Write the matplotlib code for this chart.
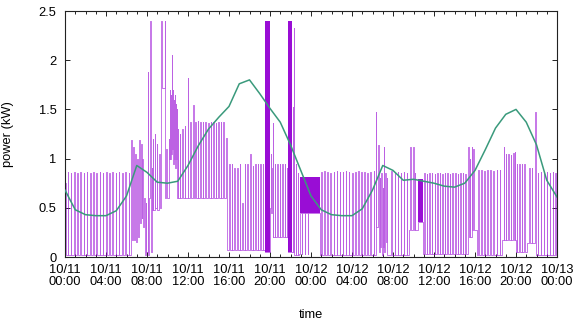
import matplotlib
matplotlib.use("Agg")
import matplotlib.pyplot as plt

plt.rcParams['font.family'] = ['Liberation Sans', 'DejaVu Sans']

# ---- power (kW); time in hours since 10/11 00:00 ----
# regular switching periods: pulse start times, pulse heights, baseline level
night1_on = [0.0, 0.27, 0.58, 0.88, 1.2, 1.5, 1.82, 2.12, 2.45, 2.75, 3.07, 3.38, 3.7,
             4.0, 4.32, 4.63, 4.95, 5.26, 5.58, 5.88, 6.2]
night1_h = [0.75, 0.86, 0.85, 0.86, 0.85, 0.86, 0.85, 0.86, 0.85, 0.86, 0.85, 0.86, 0.85,
            0.86, 0.85, 0.86, 0.85, 0.86, 0.85, 0.86, 0.85]
night1_base = 0.02

# irregular morning activity (step samples)
morning1_t = [6.45, 6.52, 6.65, 6.72, 6.85, 6.92, 7.05, 7.12, 7.25, 7.32, 7.42, 7.5, 7.56,
              7.65, 7.72, 7.8, 7.86, 7.95, 8.05, 8.1, 8.2, 8.3, 8.38, 8.45, 8.5, 8.55,
              8.62, 8.75, 8.82, 8.95, 9.02, 9.15, 9.22, 9.4, 9.45, 9.75, 9.8, 9.9, 9.95,
              10.1, 10.15, 10.2, 10.25, 10.3, 10.35, 10.4, 10.45, 10.5, 10.55, 10.6,
              10.65, 10.7, 10.75, 10.8, 10.85, 10.9, 10.95, 11.0, 11.05]
morning1_p = [1.19, 0.17, 1.12, 0.17, 1.05, 0.15, 1.0, 0.2, 1.19, 0.35, 1.15, 0.4, 1.0,
              0.3, 0.6, 0.02, 0.55, 0.05, 1.88, 0.02, 0.6, 2.4, 0.05, 0.9, 0.48, 1.2,
              0.48, 1.25, 0.5, 1.15, 0.48, 1.05, 0.5, 2.4, 1.72, 2.4, 0.6, 1.1, 0.6,
              1.2, 1.0, 1.7, 1.0, 1.65, 1.05, 2.05, 1.1, 1.7, 0.95, 1.6,
              1.0, 1.65, 0.9, 1.55, 1.0, 1.5, 0.6, 1.3, 0.6]

day1_on = [11.2, 11.45, 11.7, 11.98, 12.2, 12.5, 12.7, 12.95, 13.2, 13.45, 13.7, 13.95,
           14.2, 14.45, 14.7, 14.95, 15.2, 15.45]
day1_h = [1.25, 1.3, 1.33, 1.82, 1.37, 1.54, 1.37, 1.38, 1.37, 1.37, 1.37, 1.36,
          1.37, 1.37, 1.36, 1.37, 1.37, 1.37]
day1_base = 0.6

evening1_on = [15.75, 16.0, 16.27, 16.53, 16.8, 17.05, 17.3, 17.55, 17.8, 18.05, 18.3,
               18.55, 18.8, 19.05, 19.3]
evening1_h = [1.21, 0.95, 0.95, 0.9, 0.9, 0.95, 0.55, 0.95, 0.95, 1.05, 0.92,
              0.95, 0.95, 0.95, 0.95]
evening1_base = 0.07

late1_t = [19.5, 20.02, 20.08, 20.13, 20.2, 20.25, 20.3, 20.34]
late1_p = [0.05, 0.5, 1.05, 0.45, 0.9, 0.2, 1.36, 0.2]

late2_on = [20.45, 20.7, 20.95, 21.2, 21.45, 21.62]
late2_h = [0.95, 0.95, 0.95, 0.95, 0.95, 0.9]
late2_base = 0.2

late3_t = [21.75, 22.1, 22.2, 22.24, 22.35, 22.38, 22.5, 22.54, 22.72, 22.76, 22.85]
late3_p = [0.05, 0.05, 1.52, 0.05, 2.33, 0.02, 0.95, 0.02, 0.85, 0.02, 0.03]

midnight_t = [22.95, 23.1, 23.14, 23.4, 23.44, 23.7, 23.74, 24.85]
midnight_p = [0.45, 0.03, 0.45, 0.03, 0.45, 0.03, 0.45, 0.02]

night2_on = [25.0, 25.3, 25.6, 25.9, 26.2, 26.5, 26.8, 27.1, 27.4, 27.7, 28.0, 28.3,
             28.6, 28.9, 29.2, 29.5, 29.8, 30.1]
night2_h = [0.86, 0.87, 0.86, 0.85, 0.86, 0.87, 0.86, 0.86, 0.87, 0.86, 0.85, 0.86,
            0.87, 0.86, 0.86, 0.85, 0.86, 0.87]
night2_base = 0.02

morning2_t = [30.33, 30.38, 30.55, 30.6, 30.7, 30.75, 30.85, 30.9, 31.0, 31.05, 31.1,
              31.15, 31.25, 31.3, 31.4, 31.45]
morning2_p = [1.47, 0.3, 1.14, 0.05, 0.8, 0.1, 0.85, 0.02, 0.7, 0.1, 1.12,
              0.05, 0.85, 0.15, 0.8, 0.02]

morning3_on = [31.85, 32.15, 32.45, 32.75, 33.05, 33.35]
morning3_h = [0.87, 0.85, 0.86, 0.85, 0.86, 0.85]
morning3_base = 0.02

morning4_t = [33.6, 33.7, 33.75, 33.95, 34.0, 34.1, 34.14, 34.4, 34.95]
morning4_p = [0.27, 1.12, 0.27, 1.12, 0.27, 0.85, 0.27, 0.36, 0.03]

day2_on = [35.05, 35.3, 35.55, 35.8, 36.05, 36.3, 36.55, 36.8, 37.05, 37.3, 37.55,
           37.8, 38.05, 38.3, 38.55, 38.8, 39.05]
day2_h = [0.85, 0.84, 0.85, 0.85, 0.84, 0.85, 0.85, 0.84, 0.85, 0.85, 0.84,
          0.85, 0.85, 0.84, 0.85, 0.85, 0.84]
day2_base = 0.03

late4_t = [39.3, 39.35, 39.4, 39.5, 39.55, 39.7, 39.75, 39.85, 39.9, 40.15]
late4_p = [0.15, 1.12, 0.2, 1.0, 0.2, 1.12, 0.27, 1.1, 0.27, 0.02]

evening2_on = [40.3, 40.6, 40.9, 41.2, 41.5, 41.8, 42.1, 42.4]
evening2_h = [0.88, 0.88, 0.87, 0.88, 0.88, 0.87, 0.88, 0.88]
evening2_base = 0.02

evening3_on = [42.6, 42.8, 43.0, 43.25, 43.5, 43.75, 43.9]
evening3_h = [0.17, 1.12, 1.05, 1.05, 1.04, 1.06, 1.07]
evening3_base = 0.17

evening4_on = [43.98, 44.05, 44.3, 44.55, 44.8]
evening4_h = [0.05, 0.95, 0.95, 0.95, 0.95]
evening4_base = 0.05

evening5_on = [45.1, 45.3, 45.55, 45.9]
evening5_h = [0.14, 0.9, 0.9, 1.47]
evening5_base = 0.14

night3_on = [45.95, 46.1, 46.4, 46.7, 47.0, 47.3, 47.6, 47.85]
night3_h = [0.02, 0.85, 0.86, 0.85, 0.86, 0.85, 0.86, 0.85]
night3_base = 0.02

# dense switching periods (appear as solid blocks)
blk_start = [19.55, 21.75, 22.95, 34.4]
blk_end = [20.02, 22.1, 24.85, 34.95]
blk_low = [0.05, 0.05, 0.45, 0.36]
blk_high = [2.4, 2.4, 0.81, 0.79]

# ---- second series (hourly) ----
g_hours = list(range(49))
g_vals = [0.68, 0.48, 0.43, 0.42, 0.42, 0.47, 0.62, 0.93, 0.86, 0.76, 0.75, 0.77, 0.93,
          1.13, 1.30, 1.42, 1.53, 1.76, 1.80, 1.66, 1.51, 1.37, 1.14, 0.88, 0.62,
          0.48, 0.43, 0.42, 0.42, 0.49, 0.68, 0.93, 0.88, 0.78, 0.79, 0.77, 0.75,
          0.72, 0.71, 0.75, 0.88, 1.09, 1.31, 1.45, 1.50, 1.37, 1.14, 0.78, 0.61]

xtick_hours = [0, 4, 8, 12, 16, 20, 24, 28, 32, 36, 40, 44, 48]
xtick_labels = ["10/11\n00:00", "10/11\n04:00", "10/11\n08:00", "10/11\n12:00",
                "10/11\n16:00", "10/11\n20:00", "10/12\n00:00", "10/12\n04:00",
                "10/12\n08:00", "10/12\n12:00", "10/12\n16:00", "10/12\n20:00",
                "10/13\n00:00"]
ytick_vals = [0, 0.5, 1, 1.5, 2, 2.5]
ytick_labels = ["0", "0.5", "1", "1.5", "2", "2.5"]

PULSE_W = 0.05  # duration of one compressor pulse (h)


def pulses(on, h, base):
    t, p = [], []
    for a, v in zip(on, h):
        t += [a, a + PULSE_W]
        p += [v, base]
    return t, p


pieces = [
    pulses(night1_on, night1_h, night1_base),
    (morning1_t, morning1_p),
    pulses(day1_on, day1_h, day1_base),
    pulses(evening1_on, evening1_h, evening1_base),
    (late1_t, late1_p),
    pulses(late2_on, late2_h, late2_base),
    (late3_t, late3_p),
    (midnight_t, midnight_p),
    pulses(night2_on, night2_h, night2_base),
    (morning2_t, morning2_p),
    pulses(morning3_on, morning3_h, morning3_base),
    (morning4_t, morning4_p),
    pulses(day2_on, day2_h, day2_base),
    (late4_t, late4_p),
    pulses(evening2_on, evening2_h, evening2_base),
    pulses(evening3_on, evening3_h, evening3_base),
    pulses(evening4_on, evening4_h, evening4_base),
    pulses(evening5_on, evening5_h, evening5_base),
    pulses(night3_on, night3_h, night3_base),
]
t_all, p_all = [], []
for tt, pp in pieces:
    t_all += list(tt)
    p_all += list(pp)
t_all.append(48.0)
p_all.append(0.02)

W, H = 574, 324
fig = plt.figure(figsize=(W / 100, H / 100), dpi=100)
ax = fig.add_axes([65 / W, 1 - 257 / H, (557 - 65) / W, (257 - 11) / H])

purple = '#9400d3'
ax.plot(t_all, p_all, drawstyle='steps-post', color=purple, lw=0.6, alpha=0.62, zorder=2)
for s, e, lo, hi in zip(blk_start, blk_end, blk_low, blk_high):
    ax.fill_between([s, e], [lo, lo], [hi, hi], color=purple, lw=0, alpha=0.95, zorder=2)
ax.plot(g_hours, g_vals, color='#3a9a7c', lw=1.1, zorder=3)

ax.set_xlim(0, 48)
ax.set_ylim(0, 2.5)
ax.set_xticks(xtick_hours)
ax.set_xticklabels(xtick_labels, fontsize=9.3, linespacing=1.0)
ax.set_xticks(range(49), minor=True)
ax.set_yticks(ytick_vals)
ax.set_yticklabels(ytick_labels, fontsize=9.3)
ax.tick_params(axis='both', which='major', direction='in', length=3.5, width=0.6,
               top=True, right=True, pad=5, colors='black')
ax.tick_params(axis='x', which='minor', direction='in', length=2.0, width=0.6,
               top=True, bottom=True)
ax.tick_params(axis='y', which='major', pad=6)
for sp in ax.spines.values():
    sp.set_linewidth(0.8)
    sp.set_color('#222222')

fig.text(8 / W, 1 - 134 / H, "power (kW)", rotation=90, ha='center', va='center',
         fontsize=9.3)
fig.text(311 / W, 1 - 315 / H, "time", ha='center', va='center', fontsize=9.3)

fig.savefig("out.png", dpi=100)
